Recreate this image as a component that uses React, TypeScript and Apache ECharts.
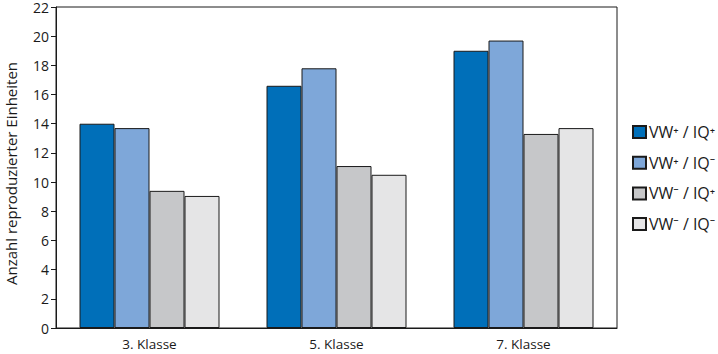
import React, { useEffect, useRef } from "react";
import * as echarts from "echarts";

const categories = ["3. Klasse", "5. Klasse", "7. Klasse"];
const seriesNames = ["VW⁺ / IQ⁺", "VW⁺ / IQ⁻", "VW⁻ / IQ⁺", "VW⁻ / IQ⁻"];
const vwPlusIqPlus = [14.0, 16.6, 19.0];
const vwPlusIqMinus = [13.7, 17.8, 19.7];
const vwMinusIqPlus = [9.4, 11.1, 13.3];
const vwMinusIqMinus = [9.05, 10.5, 13.7];
const colors = ["#006fb9", "#7ea7d9", "#c6c7c9", "#e5e5e6"];

export default function App() {
  const ref = useRef<HTMLDivElement>(null);
  useEffect(() => {
    if (!ref.current) return;
    const chart = echarts.init(ref.current, null, { renderer: "svg" });
    const values = [vwPlusIqPlus, vwPlusIqMinus, vwMinusIqPlus, vwMinusIqMinus];
    const font = "'Open Sans', 'Noto Sans', sans-serif";
    chart.setOption({
      animation: false,
      textStyle: { fontFamily: font },
      grid: {
        left: 56,
        right: 101,
        top: 7,
        bottom: 26,
        outerBoundsMode: "none",
        containLabel: false,
        show: true,
        borderColor: "#1a1a1a",
        borderWidth: 1,
        backgroundColor: "transparent",
      },
      legend: {
        orient: "vertical",
        left: 632,
        top: 124,
        padding: 0,
        itemWidth: 13,
        itemHeight: 12,
        itemGap: 14.7,
        icon: "rect",
        data: seriesNames,
        textStyle: { fontSize: 16, color: "#1a1a1a", fontFamily: font, padding: [0, 0, 0, -2] },
      },
      xAxis: {
        type: "category",
        data: categories,
        axisLine: { show: true, lineStyle: { color: "#1a1a1a", width: 1 } },
        axisTick: { show: false },
        axisLabel: { fontSize: 13.5, color: "#1a1a1a", margin: 9 },
      },
      yAxis: {
        type: "value",
        min: 0,
        max: 22,
        interval: 2,
        name: "Anzahl reproduzierter Einheiten",
        nameLocation: "middle",
        nameGap: 38,
        nameTextStyle: { fontSize: 15, color: "#1a1a1a", padding: [0, 0, 0, -12] },
        axisLine: { show: true, lineStyle: { color: "#1a1a1a", width: 1 } },
        axisTick: { show: true, length: 5, lineStyle: { color: "#1a1a1a" } },
        axisLabel: { fontSize: 14, lineHeight: 12, color: "#1a1a1a", margin: 7 },
        splitLine: { show: false },
      },
      series: seriesNames.map((name, i) => ({
        name,
        type: "bar",
        data: values[i],
        barWidth: 35,
        barGap: "0%",
        itemStyle: { color: colors[i], borderColor: "#1a1a1a", borderWidth: 1 },
      })),
    });
    return () => chart.dispose();
  }, []);
  return (
    <div
      ref={ref}
      style={{ position: "absolute", left: 0, top: 0, width: 718, height: 354, background: "#fff" }}
    />
  );
}
